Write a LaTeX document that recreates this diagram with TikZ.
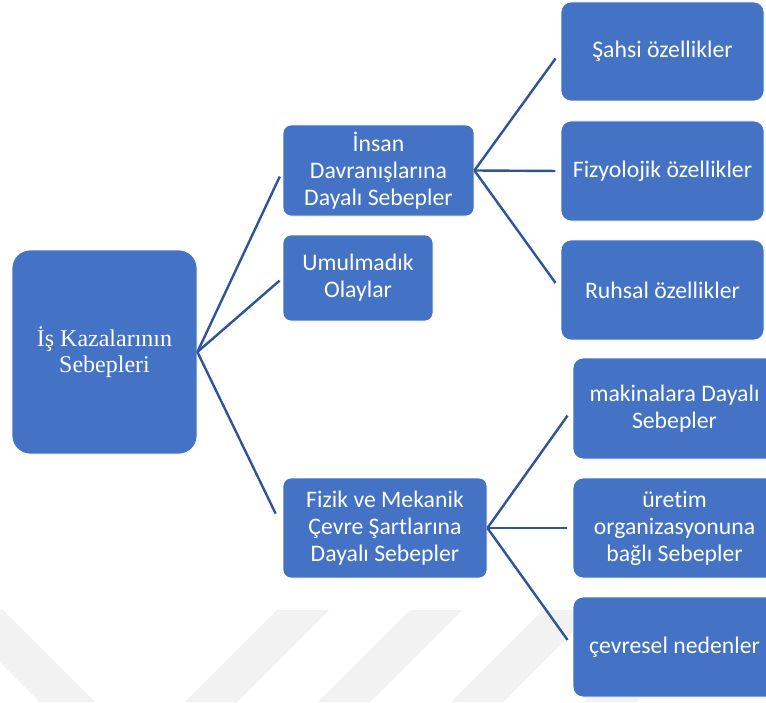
\documentclass[tikz,border=0pt]{standalone}
\usepackage{fontspec}
\setmainfont{Liberation Serif}
\newfontfamily\calib[Ligatures=NoCommon]{Carlito}
\definecolor{boxblue}{HTML}{4472C4}
\definecolor{linkblue}{HTML}{2F5597}
\definecolor{wmgray}{RGB}{242,242,242}
\tikzset{
  box/.style={rectangle, rounded corners=6pt, fill=boxblue, draw=white, line width=0.6pt,
    text=white, align=center, inner sep=2pt,
    font=\calib\fontsize{17.8pt}{20.25pt}\selectfont},
  rootbox/.style={box, rounded corners=13.5pt, font=\fontsize{18pt}{19.5pt}\selectfont},
  leafbox/.style={box, rounded corners=7.5pt, minimum width=152.25pt, minimum height=75pt},
  link/.style={draw=linkblue, line width=1.8pt},
  wmark/.style={fill=wmgray, draw=none}
}
\begin{document}
\begin{tikzpicture}[x=0.75pt,y=-0.75pt]
\useasboundingbox (0,0) rectangle (766,702);
\clip (0,0) rectangle (766,702);
\fill[white] (0,0) rectangle (766,702);
% watermark
\fill[wmark] (-52,610) -- (3,610) -- (95,702) -- (40,702) -- cycle;
\foreach \t in {277,410,543,676}{
  \fill[wmark] (\t,610) -- (\t+52,610) -- (\t-40,702) -- (\t-92,702) -- cycle;
}
% nodes
\node[rootbox, minimum width=138.75pt, minimum height=153pt] (root) at (104.5,352) {İş Kazalarının\\Sebepleri};
\node[box, minimum width=143.25pt, minimum height=68.25pt] (insan) at (378.5,170.5) {İnsan\\Davranışlarına\\Dayalı Sebepler};
\node[box, minimum width=112.5pt, minimum height=64.5pt] (umul) at (358,278) {Umulmadık\\Olaylar};
\node[box, minimum width=153pt, minimum height=75pt] (fizik) at (385,528) {Fizik ve Mekanik\\Çevre Şartlarına\\Dayalı Sebepler};
\node[leafbox, minimum height=74.25pt] (sahsi) at (662.5,51.5) {Şahsi özellikler};
\node[leafbox] (fizyo) at (662.5,171) {Fizyolojik özellikler};
\node[leafbox] (ruhsal) at (662.5,290) {Ruhsal özellikler};
\node[leafbox, minimum height=75.75pt] (makina) at (674.5,408.5) {makinalara Dayalı\\Sebepler};
\node[leafbox] (uretim) at (674.5,528) {üretim\\organizasyonuna\\bağlı Sebepler};
\node[leafbox] (cevre) at (674.5,647) {çevresel nedenler};
% connectors
\draw[link, shorten >=5pt] (root.east) -- (insan.west);
\draw[link, shorten >=3pt] (root.east) -- (umul.west);
\draw[link, shorten >=12pt] (root.east) -- (fizik.west);
\draw[link, shorten >=6.5pt] (insan.east) -- (sahsi.west);
\draw[link, shorten >=4pt] (insan.east) -- (fizyo.west);
\draw[link, shorten >=6.5pt] (insan.east) -- (ruhsal.west);
\draw[link, shorten >=6.5pt] (fizik.east) -- (makina.west);
\draw[link, shorten >=4pt] (fizik.east) -- (uretim.west);
\draw[link, shorten >=6.5pt] (fizik.east) -- (cevre.west);
\end{tikzpicture}
\end{document}
